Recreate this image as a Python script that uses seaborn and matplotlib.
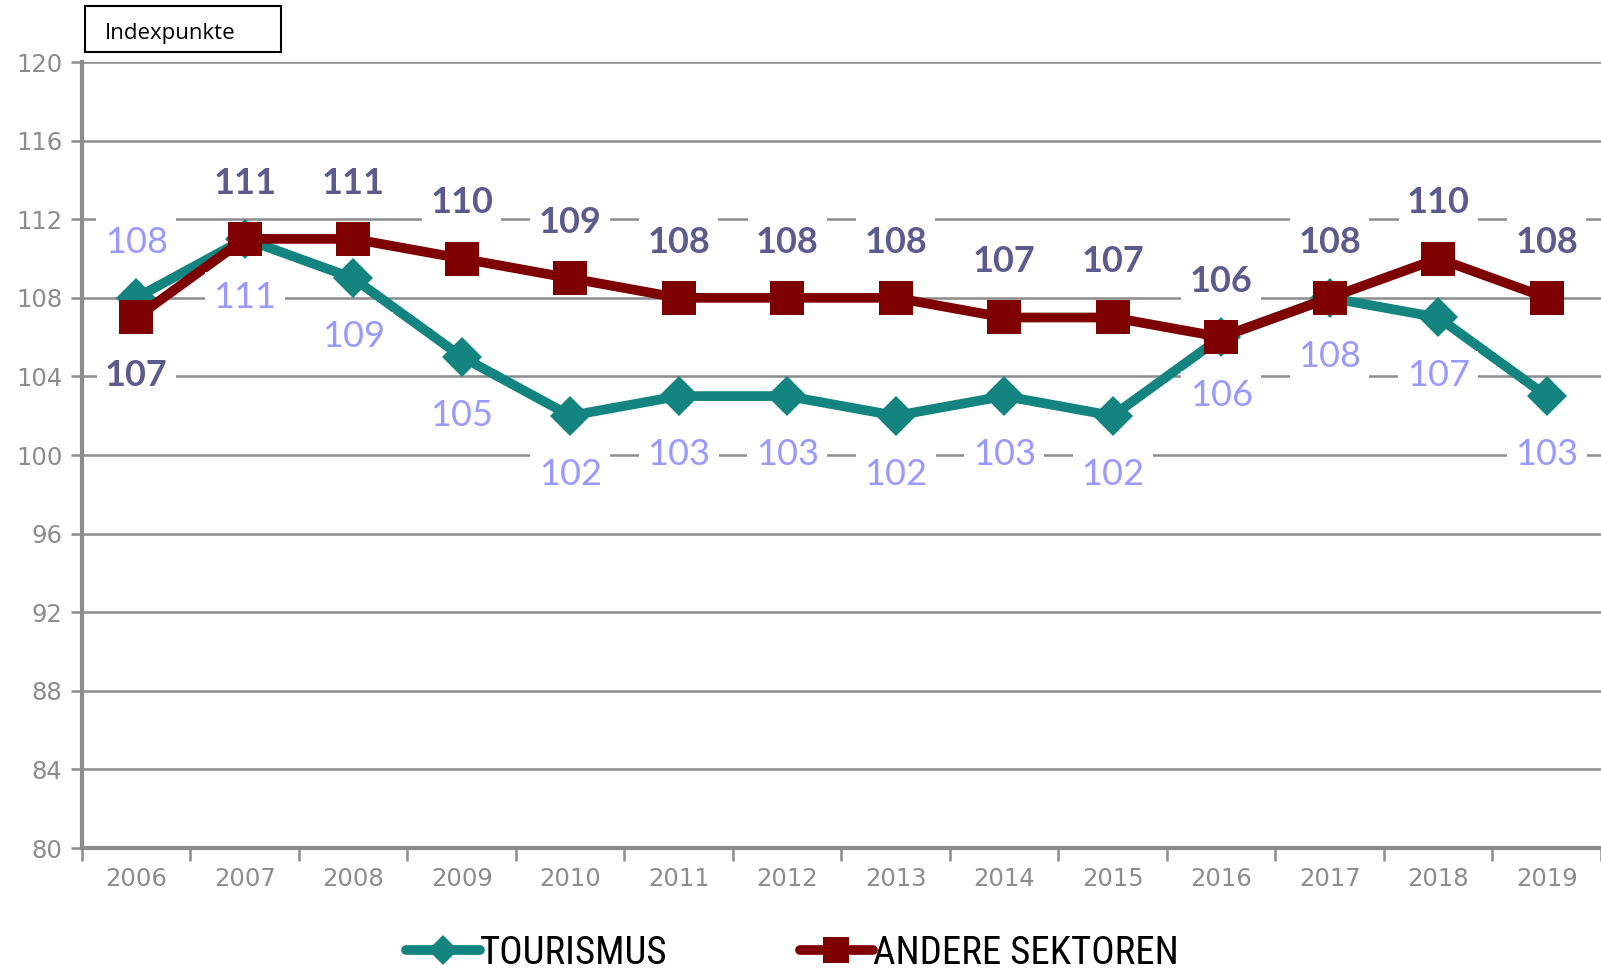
import numpy as np
import pandas as pd
import matplotlib
matplotlib.use("Agg")
import matplotlib.pyplot as plt
import seaborn as sns
from matplotlib.patches import Rectangle
from matplotlib import font_manager

# Daten (Indexpunkte)
years = ['2006', '2007', '2008', '2009', '2010', '2011', '2012',
         '2013', '2014', '2015', '2016', '2017', '2018', '2019']
tourismus = [108, 111, 109, 105, 102, 103, 103, 102, 103, 102, 106, 108, 107, 103]
andere = [107, 111, 111, 110, 109, 108, 108, 108, 107, 107, 106, 108, 110, 108]
y_ticks = [80, 84, 88, 92, 96, 100, 104, 108, 112, 116, 120]

df = pd.DataFrame({'pos': np.arange(len(years)), 'jahr': years,
                   'TOURISMUS': tourismus, 'ANDERE SEKTOREN': andere})

sns.set_theme(style="white")
plt.rcParams['font.family'] = ['DejaVu Sans']

teal = '#13847F'
dark_red = '#7F0000'
grid_grey = '#8C8C8C'
lbl_dark = '#5B5B8E'
lbl_light = '#9999FF'

# schmale Schrift für die Legende, falls vorhanden
installed = {f.name for f in font_manager.fontManager.ttflist}
narrow = [n for n in ['Liberation Sans Narrow', 'DejaVu Sans Condensed', 'Roboto Condensed']
          if n in installed]
legend_font = narrow[0] if narrow else 'DejaVu Sans'
legend_stretch = 'normal' if narrow else 'condensed'

fig = plt.figure(figsize=(16.01, 9.77), dpi=100)
ax = fig.add_axes([0.0512, 0.132, 0.9488, 0.8045])

sns.lineplot(data=df, x='pos', y='TOURISMUS', ax=ax, color=teal, linewidth=7,
             marker='D', markersize=20, markeredgewidth=0, label='TOURISMUS', zorder=3)
sns.lineplot(data=df, x='pos', y='ANDERE SEKTOREN', ax=ax, color=dark_red, linewidth=7,
             marker='s', markersize=25, markeredgewidth=0, label='ANDERE SEKTOREN', zorder=4)

ax.set_xlim(-0.5, len(years) - 0.5)
ax.set_ylim(80, 120)
ax.set_yticks(y_ticks)
ax.yaxis.grid(True, color=grid_grey, linewidth=1.8)
ax.set_axisbelow(True)

# Jahresbeschriftungen mittig, Teilstriche zwischen den Kategorien
ax.set_xticks(np.arange(-0.5, len(years), 1))
ax.set_xticklabels([])
ax.set_xticks(np.arange(len(years)), minor=True)
ax.set_xticklabels(years, minor=True)
ax.tick_params(axis='x', which='major', length=9, width=1.8, color=grid_grey, direction='out')
ax.tick_params(axis='x', which='minor', length=0, pad=14, labelsize=17.5, labelcolor=grid_grey)
ax.tick_params(axis='y', length=8, width=1.8, color=grid_grey, direction='out',
               labelsize=17.5, labelcolor=grid_grey, pad=6)
ax.tick_params(left=True, bottom=True, which='major')

for s in ['top', 'right']:
    ax.spines[s].set_visible(False)
for s in ['left', 'bottom']:
    ax.spines[s].set_color(grid_grey)
    ax.spines[s].set_linewidth(3)
ax.set_xlabel('')
ax.set_ylabel('')

# Datenbeschriftungen
box = dict(facecolor='white', edgecolor='none', pad=6)
for i in range(len(years)):
    t, a = tourismus[i], andere[i]
    t_up = t > a
    ax.annotate(str(a), (i, a), xytext=(0, -42 if t_up else 40), textcoords='offset points',
                ha='center', va='center', fontsize=26, fontweight='bold', color=lbl_dark,
                family=['Lato', 'DejaVu Sans'], bbox=box, zorder=6, annotation_clip=False)
    ax.annotate(str(t), (i, t), xytext=(0, 40 if t_up else -42), textcoords='offset points',
                ha='center', va='center', fontsize=26, color=lbl_light,
                family=['Lato', 'DejaVu Sans'], bbox=box, zorder=6, annotation_clip=False)

# Kasten "Indexpunkte"
fig.patches.append(Rectangle((85 / 1601, 1 - 52 / 977), 196 / 1601, 46 / 977,
                             transform=fig.transFigure, facecolor='white',
                             edgecolor='black', linewidth=1.5))
fig.text(105 / 1601, 1 - 34 / 977, 'Indexpunkte', fontsize=16, color='black',
         va='center', ha='left', family=['Open Sans', 'DejaVu Sans'])

# Legende
ax.legend_.remove()
handles, labels = ax.get_legend_handles_labels()
leg = fig.legend(handles, labels, loc='center', bbox_to_anchor=(0.495, 1 - 953 / 977), ncol=2,
                 frameon=False, handlelength=1.9, handletextpad=0.0, columnspacing=3.4,
                 markerscale=0.75, borderpad=0.2,
                 prop={'family': legend_font, 'stretch': legend_stretch, 'size': 28})
for txt in leg.get_texts():
    txt.set_color('black')

fig.savefig('out.png', dpi=100)
